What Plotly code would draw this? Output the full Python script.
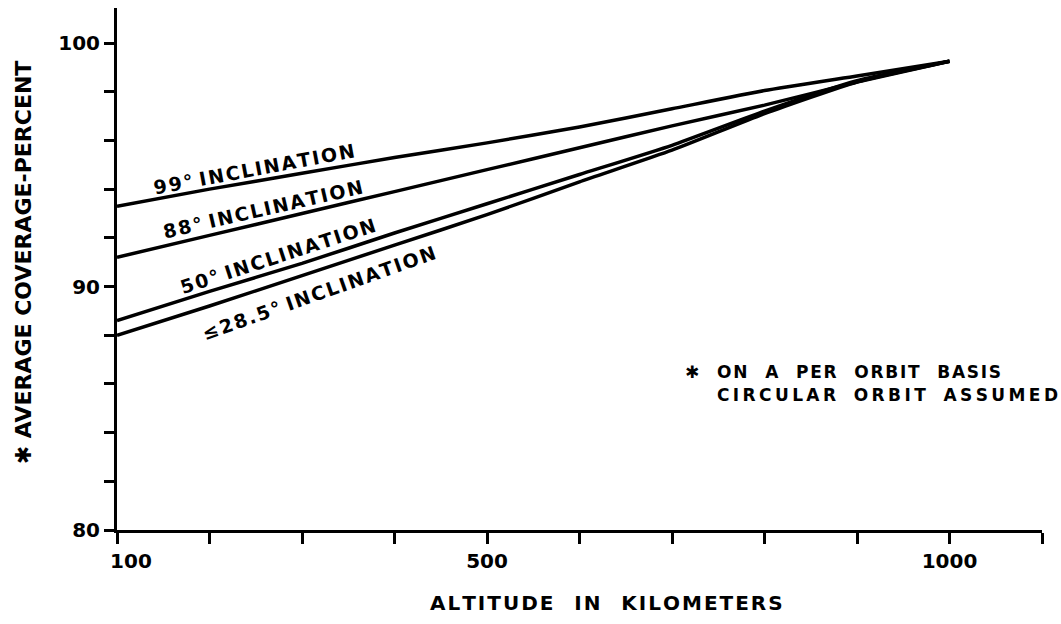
import plotly.graph_objects as go

# ---- data ----
altitude_km = [100, 200, 300, 400, 500, 600, 700, 800, 900, 1000]
cov_99 = [93.3, 94.0, 94.65, 95.3, 95.9, 96.55, 97.3, 98.05, 98.65, 99.25]
cov_88 = [91.2, 92.1, 93.0, 93.9, 94.8, 95.7, 96.6, 97.45, 98.4, 99.25]
cov_50 = [88.6, 89.8, 90.95, 92.2, 93.4, 94.6, 95.8, 97.2, 98.45, 99.25]
cov_285 = [88.0, 89.2, 90.45, 91.7, 92.95, 94.3, 95.6, 97.1, 98.4, 99.25]
series_names = ["99° INCLINATION", "88° INCLINATION", "50° INCLINATION", "≤28.5° INCLINATION"]

x_tickvals = [100, 200, 300, 400, 500, 600, 700, 800, 900, 1000, 1100]
x_ticktext = ["100", "", "", "", "500", "", "", "", "", "1000", ""]
y_tickvals = [80, 82, 84, 86, 88, 90, 92, 94, 96, 98, 100]
y_ticktext = ["80", "", "", "", "", "90", "", "", "", "", "100"]

x_title = "ALTITUDE IN KILOMETERS"
y_title = "✱ AVERAGE COVERAGE-PERCENT"
note_1 = "✱ ON A PER ORBIT BASIS"
note_2 = "CIRCULAR ORBIT ASSUMED"

FONT = "DejaVu Sans"
INK = "#000000"
HAIR = "\u200a"
THIN = "\u2009"
NB = "\u00a0"


def spaced(s, gap, wordgap):
    words = s.split(" ")
    return wordgap.join(gap.join(list(w)) for w in words)


fig = go.Figure()
for name, ys in zip(series_names, [cov_99, cov_88, cov_50, cov_285]):
    fig.add_trace(go.Scatter(x=altitude_km, y=ys, mode="lines", name=name,
                             line=dict(color=INK, width=3.5, shape="spline", smoothing=0.5),
                             showlegend=False, hoverinfo="x+y+name"))

# curve labels (position, angle)
label_pos = [(248, 94.83, -10.6), (258, 93.18, -12.9), (274, 91.25, -18.0), (318, 89.73, -19.5)]
for name, (lx, ly, ang) in zip(series_names, label_pos):
    fig.add_annotation(x=lx, y=ly, xref="x", yref="y", text=spaced(name, HAIR, NB),
                       textangle=ang, showarrow=False, xanchor="center", yanchor="middle",
                       font=dict(family=FONT, size=19, color=INK, weight="bold"))

fig.add_annotation(x=0.612, y=0.303, xref="paper", yref="paper", text=spaced(note_1, HAIR, NB * 3),
                   showarrow=False, xanchor="left", yanchor="middle",
                   font=dict(family=FONT, size=17, color=INK, weight="bold"))
fig.add_annotation(x=0.6465, y=0.2586, xref="paper", yref="paper", text=spaced(note_2, THIN, NB * 3),
                   showarrow=False, xanchor="left", yanchor="middle",
                   font=dict(family=FONT, size=17, color=INK, weight="bold"))

fig.add_annotation(x=0.529, y=-0.14, xref="paper", yref="paper", text=spaced(x_title, HAIR, NB * 3),
                   showarrow=False, xanchor="center", yanchor="middle",
                   font=dict(family=FONT, size=20, color=INK, weight="bold"))
fig.add_annotation(x=-0.1016, y=0.513, xref="paper", yref="paper", text=spaced(y_title, "", NB),
                   textangle=-90, showarrow=False, xanchor="center", yanchor="middle",
                   font=dict(family=FONT, size=22, color=INK, weight="bold"))

axis_common = dict(showline=True, linecolor=INK, linewidth=3, ticks="outside", tickcolor=INK,
                   tickwidth=3, showgrid=False, zeroline=False,
                   tickfont=dict(family=FONT, size=20, color=INK, weight="bold"))

# first x label sits just right of the axis corner in the reference
x_ticktext_shown = [NB * 4 + t if i == 0 else t for i, t in enumerate(x_ticktext)]

fig.update_layout(
    width=1061, height=624,
    margin=dict(l=117, r=19, t=8, b=94),
    paper_bgcolor="white", plot_bgcolor="white",
    xaxis=dict(range=[100, 1100], tickvals=x_tickvals, ticktext=x_ticktext_shown, ticklen=11, **axis_common),
    yaxis=dict(range=[80, 101.44], tickvals=y_tickvals, ticktext=y_ticktext, ticklen=10, **axis_common),
)

fig.write_html("out.html")
